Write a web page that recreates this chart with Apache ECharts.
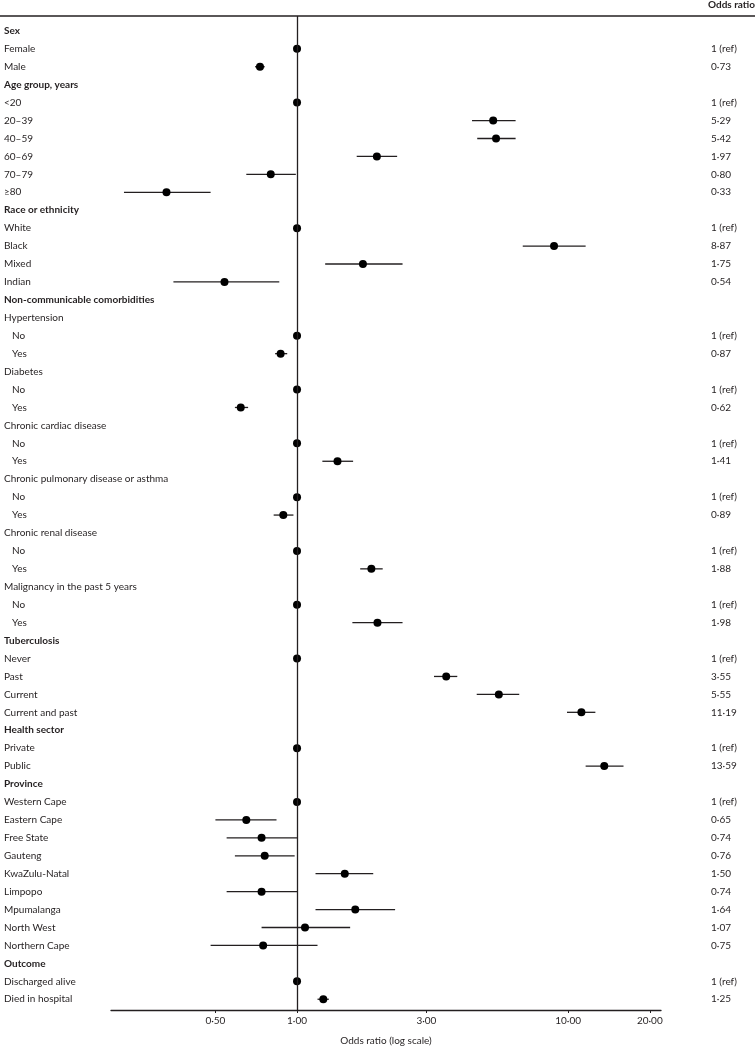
<!DOCTYPE html>
<html>
<head>
<meta charset="utf-8">
<title>Odds ratio forest plot</title>
<script src="https://cdn.jsdelivr.net/npm/echarts@6/dist/echarts.min.js"></script>
<style>
    html, body { margin: 0; padding: 0; background: #fff; }
    #chart { width: 755px; height: 1051px; }
</style>
</head>
<body>
<div id="chart"></div>
<script>
// 行标签（自上而下）
var rowLabels = [
    'Sex', 'Female', 'Male',
    'Age group, years', '<20', '20–39', '40–59', '60–69', '70–79', '≥80',
    'Race or ethnicity', 'White', 'Black', 'Mixed', 'Indian',
    'Non-communicable comorbidities',
    'Hypertension', 'No', 'Yes',
    'Diabetes', 'No', 'Yes',
    'Chronic cardiac disease', 'No', 'Yes',
    'Chronic pulmonary disease or asthma', 'No', 'Yes',
    'Chronic renal disease', 'No', 'Yes',
    'Malignancy in the past 5 years', 'No', 'Yes',
    'Tuberculosis', 'Never', 'Past', 'Current', 'Current and past',
    'Health sector', 'Private', 'Public',
    'Province', 'Western Cape', 'Eastern Cape', 'Free State', 'Gauteng', 'KwaZulu-Natal',
    'Limpopo', 'Mpumalanga', 'North West', 'Northern Cape',
    'Outcome', 'Discharged alive', 'Died in hospital'
];

// 行类型: h = 粗体标题, s = 子标题, i = 普通项, n = 缩进项
var rowTypes = [
    'h', 'i', 'i',
    'h', 'i', 'i', 'i', 'i', 'i', 'i',
    'h', 'i', 'i', 'i', 'i',
    'h',
    's', 'n', 'n',
    's', 'n', 'n',
    's', 'n', 'n',
    's', 'n', 'n',
    's', 'n', 'n',
    's', 'n', 'n',
    'h', 'i', 'i', 'i', 'i',
    'h', 'i', 'i',
    'h', 'i', 'i', 'i', 'i', 'i', 'i', 'i', 'i', 'i',
    'h', 'i', 'i'
];

// 比值比（null 表示无数据的标题行）
var oddsRatio = [
    null, 1, 0.73,
    null, 1, 5.29, 5.42, 1.97, 0.80, 0.33,
    null, 1, 8.87, 1.75, 0.54,
    null,
    null, 1, 0.87,
    null, 1, 0.62,
    null, 1, 1.41,
    null, 1, 0.89,
    null, 1, 1.88,
    null, 1, 1.98,
    null, 1, 3.55, 5.55, 11.19,
    null, 1, 13.59,
    null, 1, 0.65, 0.74, 0.76, 1.50, 0.74, 1.64, 1.07, 0.75,
    null, 1, 1.25
];

// 95% 置信区间下限 / 上限（参照组为 null）
var ciLow = [
    null, null, 0.70,
    null, null, 4.42, 4.62, 1.66, 0.65, 0.23,
    null, null, 6.80, 1.27, 0.35,
    null,
    null, null, 0.83,
    null, null, 0.59,
    null, null, 1.24,
    null, null, 0.82,
    null, null, 1.71,
    null, null, 1.60,
    null, null, 3.20, 4.60, 9.90,
    null, null, 11.6,
    null, null, 0.50, 0.55, 0.59, 1.17, 0.55, 1.17, 0.74, 0.48,
    null, null, 1.19
];
var ciHigh = [
    null, null, 0.76,
    null, null, 6.40, 6.40, 2.34, 0.99, 0.48,
    null, null, 11.6, 2.45, 0.86,
    null,
    null, null, 0.92,
    null, null, 0.66,
    null, null, 1.61,
    null, null, 0.97,
    null, null, 2.07,
    null, null, 2.45,
    null, null, 3.90, 6.60, 12.6,
    null, null, 16.0,
    null, null, 0.84, 1.00, 0.98, 1.91, 1.00, 2.30, 1.57, 1.19,
    null, null, 1.31
];

// 右侧文字列
var orText = [
    '', '1 (ref)', '0·73',
    '', '1 (ref)', '5·29', '5·42', '1·97', '0·80', '0·33',
    '', '1 (ref)', '8·87', '1·75', '0·54',
    '',
    '', '1 (ref)', '0·87',
    '', '1 (ref)', '0·62',
    '', '1 (ref)', '1·41',
    '', '1 (ref)', '0·89',
    '', '1 (ref)', '1·88',
    '', '1 (ref)', '1·98',
    '', '1 (ref)', '3·55', '5·55', '11·19',
    '', '1 (ref)', '13·59',
    '', '1 (ref)', '0·65', '0·74', '0·76', '1·50', '0·74', '1·64', '1·07', '0·75',
    '', '1 (ref)', '1·25'
];

// x 轴刻度
var xTicks = [0.5, 1, 3, 10, 20];

var FONT = 'Lato';
var INK = '#231f20';

var rowIdx = [];
var pointData = [];
var ciData = [];
for (var i = 0; i < rowLabels.length; i++) {
    rowIdx.push(i);
    if (oddsRatio[i] !== null) {
        pointData.push([oddsRatio[i], i]);
    }
    if (ciLow[i] !== null) {
        ciData.push([ciLow[i], ciHigh[i], i]);
    }
}

var chart = echarts.init(document.getElementById('chart'));

var yBase = {
    type: 'value',
    inverse: true,
    min: -0.83,
    max: 54.6,
    axisLine: { show: false, onZero: false },
    axisTick: { show: false },
    splitLine: { show: false }
};

var option = {
    animation: false,
    title: {
        text: 'Odds ratio',
        left: 708,
        top: 0,
        padding: 0,
        textStyle: { fontFamily: FONT, fontSize: 10, fontWeight: 'bold', color: INK }
    },
    graphic: [{
        type: 'line',
        shape: { x1: 0, y1: 16, x2: 755, y2: 16 },
        style: { stroke: INK, lineWidth: 1.4 },
        silent: true
    }],
    grid: { left: 111, right: 94, top: 16, bottom: 36 },
    xAxis: {
        type: 'log',
        logBase: 10,
        min: 0.206,
        max: 22,
        axisLine: { onZero: false, lineStyle: { color: INK, width: 1.3 } },
        axisTick: { show: true, length: 3, customValues: xTicks, lineStyle: { color: INK } },
        splitLine: { show: false },
        axisLabel: {
            customValues: xTicks,
            margin: 6,
            fontFamily: FONT,
            fontSize: 10,
            color: INK,
            formatter: function (v) {
                return v.toFixed(2).replace('.', '·');
            }
        },
        name: 'Odds ratio (log scale)',
        nameLocation: 'middle',
        nameGap: 26,
        nameTextStyle: { fontFamily: FONT, fontSize: 10, color: INK }
    },
    yAxis: [
        echarts.util.merge({
            position: 'left',
            axisLabel: {
                customValues: rowIdx,
                align: 'left',
                margin: 107,
                fontFamily: FONT,
                fontSize: 10,
                color: INK,
                formatter: function (v) {
                    var t = rowTypes[v];
                    return '{' + t + '|' + rowLabels[v] + '}';
                },
                rich: {
                    h: { fontFamily: FONT, fontSize: 10, fontWeight: 'bold', color: INK },
                    s: { fontFamily: FONT, fontSize: 10, color: INK },
                    i: { fontFamily: FONT, fontSize: 10, color: INK },
                    n: { fontFamily: FONT, fontSize: 10, color: INK, padding: [0, 0, 0, 8] }
                }
            }
        }, yBase, true),
        echarts.util.merge({
            position: 'right',
            axisLabel: {
                customValues: rowIdx,
                align: 'left',
                margin: 50,
                fontFamily: FONT,
                fontSize: 10,
                color: INK,
                formatter: function (v) {
                    return orText[v];
                }
            }
        }, yBase, true)
    ],
    series: [
        {
            // 置信区间横线
            type: 'custom',
            xAxisIndex: 0,
            yAxisIndex: 0,
            data: ciData,
            encode: { x: [0, 1], y: 2 },
            renderItem: function (params, api) {
                var a = api.coord([api.value(0), api.value(2)]);
                var b = api.coord([api.value(1), api.value(2)]);
                return {
                    type: 'line',
                    shape: { x1: a[0], y1: a[1], x2: b[0], y2: b[1] },
                    style: { stroke: INK, lineWidth: 1.3 }
                };
            },
            silent: true,
            z: 2
        },
        {
            type: 'scatter',
            xAxisIndex: 0,
            yAxisIndex: 0,
            data: pointData,
            symbol: 'circle',
            symbolSize: 8,
            itemStyle: { color: '#000', opacity: 1 },
            silent: true,
            z: 3,
            markLine: {
                silent: true,
                symbol: 'none',
                label: { show: false },
                lineStyle: { color: INK, width: 1.3, type: 'solid' },
                data: [{ xAxis: 1 }]
            }
        }
    ]
};

chart.setOption(option);
</script>
</body>
</html>
